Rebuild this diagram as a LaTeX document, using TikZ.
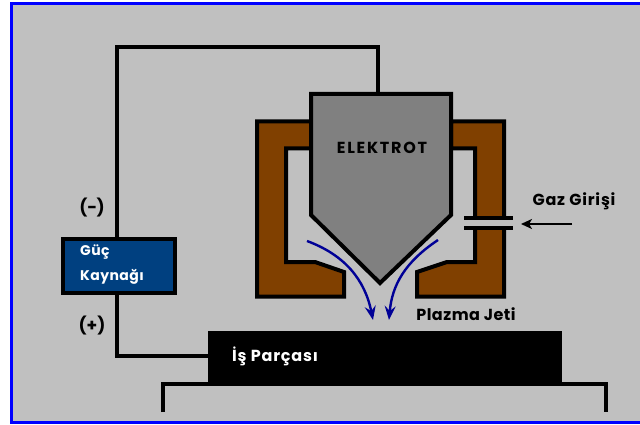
\documentclass[tikz,border=0pt]{standalone}
\usepackage{fontspec}
\setmainfont{Poppins}
\usetikzlibrary{arrows.meta}
\definecolor{bg}{RGB}{192,192,192}
\definecolor{brownw}{RGB}{128,64,0}
\definecolor{grayel}{RGB}{128,128,128}
\definecolor{bluebox}{RGB}{0,64,128}
\definecolor{navyf}{RGB}{0,0,150}
\newcommand{\spc}[1]{\addfontfeatures{LetterSpace=#1}}
\tikzset{
 x=1pt,y=-1pt,
 wire/.style={draw=black,line width=4pt,line join=miter},
 lab/.style={font=\bfseries\fontsize{16}{18}\selectfont,text=black,inner sep=0pt},
 wlab/.style={font=\bfseries\fontsize{14}{16}\selectfont,text=white,inner sep=0pt,anchor=west},
 flow/.style={draw=navyf,line width=2.4pt,-{Stealth[length=14pt,width=11pt,inset=5pt]}}
}
\begin{document}
\begin{tikzpicture}
\useasboundingbox (0,0) rectangle (640,425);
\fill[white] (0,0) rectangle (640,425);
\filldraw[fill=bg,draw=blue,line width=3pt] (11,3.5) rectangle (660,422);
% holders
\filldraw[fill=brownw,wire] (311,121.5) -- (257,121.5) -- (257,296.5) -- (344,296.5) -- (344,272) -- (315,262) -- (286,262) -- (286,148.5) -- (311,148.5) -- cycle;
\filldraw[fill=brownw,wire] (451,121.5) -- (504,121.5) -- (504,296.5) -- (417,296.5) -- (417,272) -- (447,262) -- (475,262) -- (475,148.5) -- (451,148.5) -- cycle;
% gas inlet
\fill[bg] (464,218) rectangle (513,228);
\draw[wire] (464,218) -- (513,218);
\draw[wire] (464,228) -- (513,228);
\coordinate (gasA) at (572,224);
\coordinate (gasB) at (521,224);
\draw[draw=black,line width=2.2pt,-{Stealth[length=11pt,width=10pt,inset=3pt]}] (gasA) -- (gasB);
% electrode
\node[inner sep=0pt,minimum size=0pt] (eltop) at (378,94) {};
\filldraw[fill=grayel,wire] (311,94) -- (451,94) -- (451,215) -- (380,283) -- (311,215) -- cycle;
\node[lab] (elektrot) at (382,148) {\spc{11}ELEKTROT};
% work piece and base
\draw[wire] (163,412) -- (163,384) -- (606,384) -- (606,412);
\node[fill=black,minimum width=354pt,minimum height=55pt,inner sep=0pt,outer sep=0pt,anchor=north west] (work) at (208,330.5) {};
\node[wlab,font=\bfseries\fontsize{16}{18}\selectfont] (worklab) at (232,356) {\spc{5}İş Parçası};
% power
\node[draw=black,line width=4pt,fill=bluebox,minimum width=112pt,minimum height=53.5pt,inner sep=0pt,anchor=north west] (power) at (61.2,237) {};
\node[wlab] (guc) at (80,252) {\spc{3}Güç};
\node[wlab] (kaynak) at (80,277) {\spc{3}Kaynağı};
\draw[wire] (power.north -| 116.7,0) -- (116.7,47.5) -- (378,47.5) -- (eltop.center);
\draw[wire] (power.south -| 116.7,0) -- (116.7,356) -- (work.west |- 0,356);
\node[lab,font=\bfseries\fontsize{17}{19}\selectfont] (minus) at (92,208) {(−)};
\node[lab,font=\bfseries\fontsize{17}{19}\selectfont] (plus) at (92,326) {(+)};
% flow
\draw[flow] (307,241) .. controls (345,255) and (365,280) .. (373,320);
\draw[flow] (438,240) .. controls (405,262) and (392,285) .. (389,320);
\node[lab] (plasma) at (466,314) {\spc{3}Plazma Jeti};
\node[lab] (gaz) at (574,201) {\spc{5}Gaz Girişi};
\end{tikzpicture}
\end{document}
